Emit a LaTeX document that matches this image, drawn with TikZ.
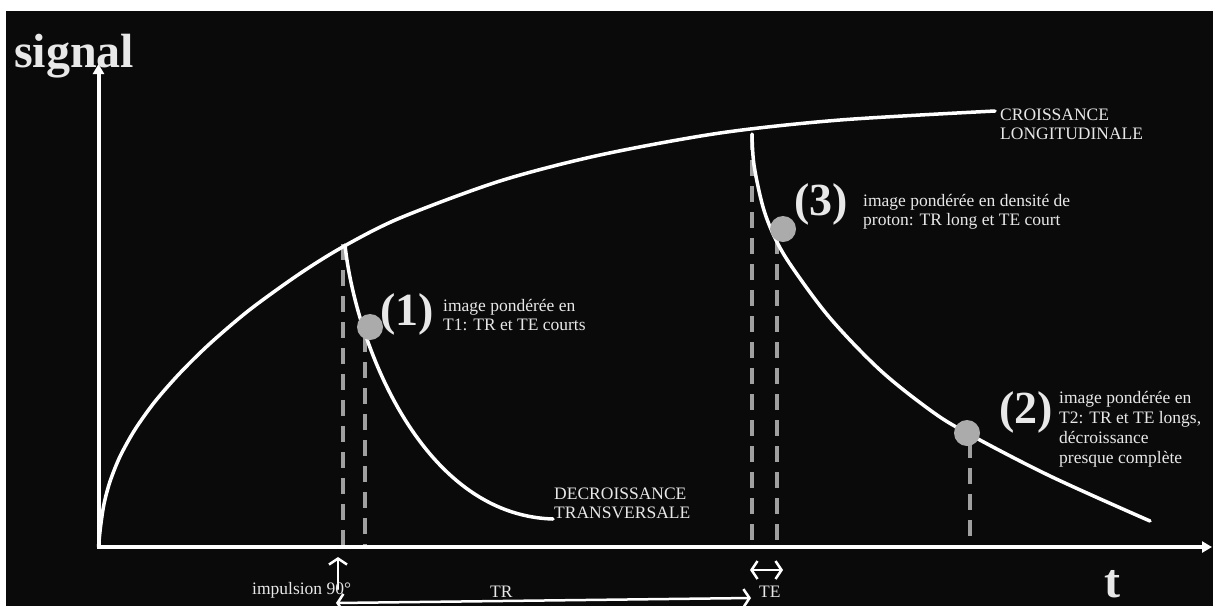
\documentclass[tikz,border=0pt]{standalone}
\usepackage{fontspec}
\setmainfont{Liberation Serif}
\usetikzlibrary{arrows.meta}
\definecolor{bg}{HTML}{0A0A0A}
\definecolor{txt}{HTML}{E8E8E8}
\definecolor{dashg}{HTML}{A0A0A0}
\definecolor{dotg}{HTML}{ABABAB}
\begin{document}
\begin{tikzpicture}[x=1pt,y=-1pt,
  curve/.style={white,line width=3.5pt,line cap=round},
  guide/.style={dashg,line width=4.5pt,dash pattern=on 16pt off 10pt},
  spot/.style={circle,fill=dotg,minimum size=26pt,inner sep=0pt},
  lbl/.style={txt,inner sep=0pt,anchor=base west,font=\fontsize{17.5}{19}\selectfont},
  num/.style={txt,inner sep=0pt,anchor=base west,font=\fontsize{46}{46}\selectfont\bfseries},
  big/.style={txt,inner sep=0pt,anchor=base west,font=\fontsize{48}{48}\selectfont\bfseries},
  axisline/.style={white,line width=4pt,{Triangle[length=10pt,width=11pt]}-{Triangle[length=10pt,width=11pt]}},
  thinarrow/.style={white,line width=2.5pt,line cap=round,>={Straight Barb[length=6pt,width=18pt]}}
]
\useasboundingbox (0,0) rectangle (1213,606);
\fill[white] (0,0) rectangle (1213,606);
\fill[bg] (6,11) rectangle (1213,606);

% axes coordinates
\coordinate (O) at (98.5,547);
\coordinate (ytip) at (98.5,64);
\coordinate (xtip) at (1212,547);

% guide lines
\coordinate (g1t) at (343,244); \coordinate (g1b) at (343,545);
\coordinate (g2t) at (365,336); \coordinate (g2b) at (365,545);
\coordinate (g3t) at (752,134); \coordinate (g3b) at (752,545);
\coordinate (g4t) at (777,238); \coordinate (g4b) at (777,545);
\coordinate (g5t) at (970,442); \coordinate (g5b) at (970,545);
\draw[guide] (g1t) -- (g1b);
\draw[guide] (g2t) -- (g2b);
\draw[guide] (g3t) -- (g3b);
\draw[guide] (g4t) -- (g4b);
\draw[guide] (g5t) -- (g5b);

% longitudinal growth
\draw[curve] plot[smooth,tension=0.5] coordinates {
 (98.5,547) (100.5,527) (104,504) (110,481.5) (120,456.5) (135,429.5)
 (155,401.5) (180,373) (210,343.5) (250,309.5) (300,273.5) (343.5,246.5)
 (400,218) (500,181) (600,155) (720,133) (840,120) (995,111)};

% transverse decay 1
\draw[curve] (345,245) .. controls (355,340) and (420,515) .. (553,519);

% transverse decay 2
\draw[curve] plot[smooth,tension=0.55] coordinates {
 (752,134) (754,165) (763,207) (775,238) (792,267) (830,318) (880,370)
 (930,410) (967,433) (1050,476) (1150,521)};

% dots
\node[spot] (d1) at (370,327) {};
\node[spot] (d3) at (783,229) {};
\node[spot] (d2) at (967,433) {};

% axes
\draw[axisline] (ytip) -- (O) -- (xtip);

% texts
\node[big] (sig) at (14,67) {signal};
\node[big] (tt) at (1104,597) {t};
\node[lbl] (cl1) at (1000,120) {CROISSANCE};
\node[lbl] (cl2) at (1000,139) {LONGITUDINALE};
\node[lbl] (dt1) at (554,499) {DECROISSANCE};
\node[lbl] (dt2) at (554,518) {TRANSVERSALE};

\node[num] (n1) at (380,325) {(1)};
\node[lbl] (a1) at (443,311) {image pondérée en};
\node[lbl] (a2) at (443,330) {T1: TR et TE courts};

\node[num] (n3) at (794,215) {(3)};
\node[lbl] (c1) at (863,206) {image pondérée en densité de};
\node[lbl] (c2) at (863,225) {proton: TR long et TE court};

\node[num] (n2) at (999,423) {(2)};
\node[lbl] (b1) at (1059,403) {image pondérée en};
\node[lbl] (b2) at (1059,423) {T2: TR et TE longs,};
\node[lbl] (b3) at (1059,443) {décroissance};
\node[lbl] (b4) at (1059,463) {presque complète};

% bottom annotations
\coordinate (impt) at (338,557);
\coordinate (impb) at (338,589);
\draw[thinarrow,->] (impb) -- (impt);
\node[lbl] (imp) at (252,594) {impulsion 90°};

\coordinate (tel) at (750,570);
\coordinate (ter) at (783,570);
\draw[thinarrow,<->] (tel) -- (ter);
\node[lbl] (te) at (759,597) {TE};

\coordinate (trl) at (336,603);
\coordinate (trr) at (751,598);
\draw[thinarrow,<->] (trl) -- (trr);
\node[lbl] (tr) at (490,597) {TR};
\end{tikzpicture}
\end{document}
